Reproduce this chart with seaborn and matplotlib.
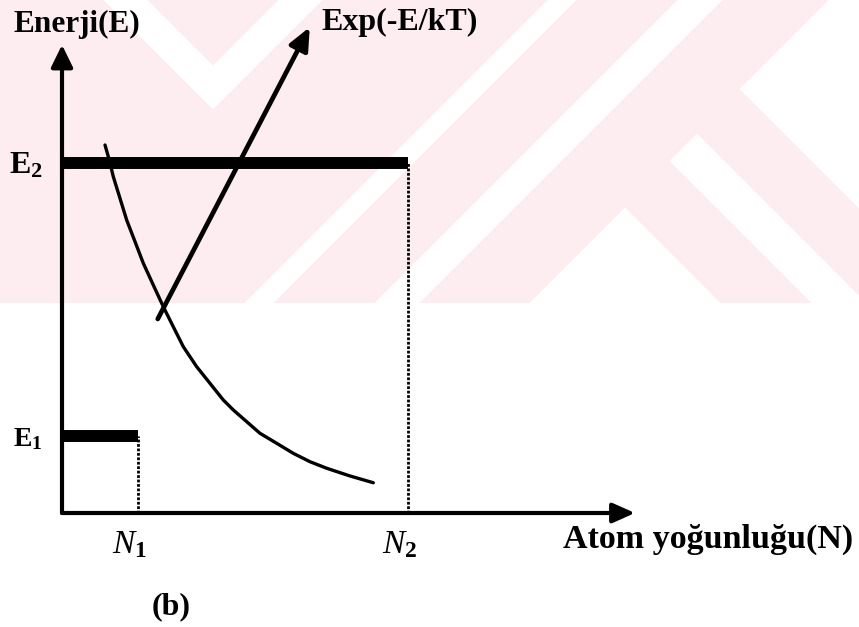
import numpy as np
import pandas as pd
import matplotlib
matplotlib.use("Agg")
import matplotlib.pyplot as plt
import matplotlib.transforms as mtrans
import seaborn as sns

# ---------------- data ----------------
N_levels = [1.0, 4.55]          # N1, N2
E_levels = [1.0, 4.55]          # E1, E2
N_tick_labels = [r"$N_{\mathbf{1}}$", r"$N_{\mathbf{2}}$"]
E_tick_labels = [r"$\mathbf{E}_{\mathbf{1}}$", r"$\mathbf{E}_{\mathbf{2}}$"]

curve_N = [0.566, 0.622, 0.675, 0.763, 0.851, 0.961, 1.070, 1.201, 1.333, 1.464,
           1.596, 1.772, 1.947, 2.122, 2.254, 2.430, 2.605, 2.825, 3.043, 3.263,
           3.483, 3.789, 4.096]
curve_E = [4.779, 4.584, 4.368, 4.087, 3.805, 3.523, 3.243, 2.961, 2.679, 2.419,
           2.160, 1.900, 1.684, 1.468, 1.338, 1.186, 1.035, 0.905, 0.775, 0.666,
           0.581, 0.481, 0.393]

exp_arrow_N = [1.26, 3.26]
exp_arrow_E = [2.52, 6.31]

label_E_axis = "Enerji(E)"
label_N_axis = "Atom yoğunluğu(N)"
label_arrow = "Exp(-E/kT)"
label_panel = "(b)"

# ---------------- style ----------------
sns.set_style("white")
plt.rcParams["font.family"] = ["Liberation Serif", "DejaVu Serif"]
plt.rcParams["mathtext.fontset"] = "custom"
plt.rcParams["mathtext.rm"] = "Liberation Serif:bold"
plt.rcParams["mathtext.bf"] = "Liberation Serif:bold"
plt.rcParams["mathtext.it"] = "Liberation Serif:italic"
plt.rcParams["text.color"] = "black"
plt.rcParams["xtick.color"] = "black"
plt.rcParams["ytick.color"] = "black"
plt.rcParams["axes.labelcolor"] = "black"

W, H = 859, 627
fig = plt.figure(figsize=(W / 100, H / 100), dpi=100)
fig.patch.set_facecolor("white")

# faint background watermark (decorative)
bg = fig.add_axes([0, 0, 1, 1], zorder=0)
X, Y = np.meshgrid(np.arange(W) + 0.5, np.arange(H) + 0.5)
S, D = X + Y, X - Y
white = (((D > 103) & (D < 148) & (S < 323)) |
         ((S > 278) & (S < 323) & (D > 103)) |
         ((S > 547) & (S < 577)) |
         ((S > 677) & (S < 723)) |
         ((S > 828) & (D > 650)) |
         ((S > 830) & (D > 508) & (D < 564)) |
         ((S > 832) & (D < 418)))
pink = (Y < 303) & ~white
img = np.ones((H, W, 3))
img[pink] = np.array([253, 237, 241]) / 255.0
bg.imshow(img, extent=[0, W, H, 0], interpolation="nearest", aspect="auto")
bg.axis("off")

# main axes: origin at pixel (62, 513)
ax = fig.add_axes([62 / W, (H - 513) / H, (640 - 62) / W, (513 - 40) / H], zorder=1)
ax.set_facecolor("none")
ax.set_xlim(0, 578 / 76)
ax.set_ylim(0, 473 / 77)
for sp in ax.spines.values():
    sp.set_visible(False)

# energy levels and dotted drops
for n, e in zip(N_levels, E_levels):
    ax.plot([0, n], [e, e], color="black", lw=8.6, solid_capstyle="butt", zorder=3)
    ax.plot([n, n], [0, e], color="black", lw=2.0, ls=(0, (1, 0.6)), zorder=3)

# decaying curve
sns.lineplot(x=curve_N, y=curve_E, sort=False, estimator=None, color="black",
             lw=2.4, ax=ax, zorder=4, solid_joinstyle="round", solid_capstyle="round")

# Exp arrow
ax.annotate("", xy=(exp_arrow_N[1], exp_arrow_E[1]), xytext=(exp_arrow_N[0], exp_arrow_E[0]),
            arrowprops=dict(arrowstyle="-|>,head_length=0.45,head_width=0.2", lw=3.4,
                            color="black", shrinkA=0, shrinkB=0, mutation_scale=30),
            annotation_clip=False, zorder=5)

# axes arrows
ax.annotate("", xy=(7.54, 0), xytext=(0, 0),
            arrowprops=dict(arrowstyle="-|>,head_length=0.45,head_width=0.2", lw=3,
                            color="black", shrinkA=0, shrinkB=0, mutation_scale=30),
            annotation_clip=False, zorder=5)
ax.annotate("", xy=(0, 6.08), xytext=(0, 0),
            arrowprops=dict(arrowstyle="-|>,head_length=0.45,head_width=0.22", lw=3,
                            color="black", shrinkA=0, shrinkB=0, mutation_scale=30),
            annotation_clip=False, zorder=5)

# ticks
ax.set_xticks(N_levels, N_tick_labels)
ax.set_yticks(E_levels, E_tick_labels)
ax.tick_params(axis="x", length=0, pad=12, labelsize=24)
ax.tick_params(axis="y", length=0, pad=14)
shift = mtrans.ScaledTranslation(-8 / 100, 0, fig.dpi_scale_trans)
for lbl in ax.get_xticklabels():
    lbl.set_transform(lbl.get_transform() + shift)
for lbl, fs in zip(ax.get_yticklabels(), [20, 23]):
    lbl.set_fontsize(fs)
ax.grid(False)

def fx(px):
    return px / W

def fy(py):
    return 1 - py / H

fig.text(fx(13), fy(32), label_E_axis, fontsize=22.5, fontweight="bold", va="baseline", ha="left")
fig.text(fx(321), fy(30), label_arrow, fontsize=23, fontweight="bold", va="baseline", ha="left")
fig.text(fx(563), fy(548), label_N_axis, fontsize=24.5, fontweight="bold", va="baseline", ha="left")
fig.text(fx(152), fy(614), label_panel, fontsize=23, fontweight="bold", va="baseline", ha="left")

fig.savefig("out.png", dpi=100)
